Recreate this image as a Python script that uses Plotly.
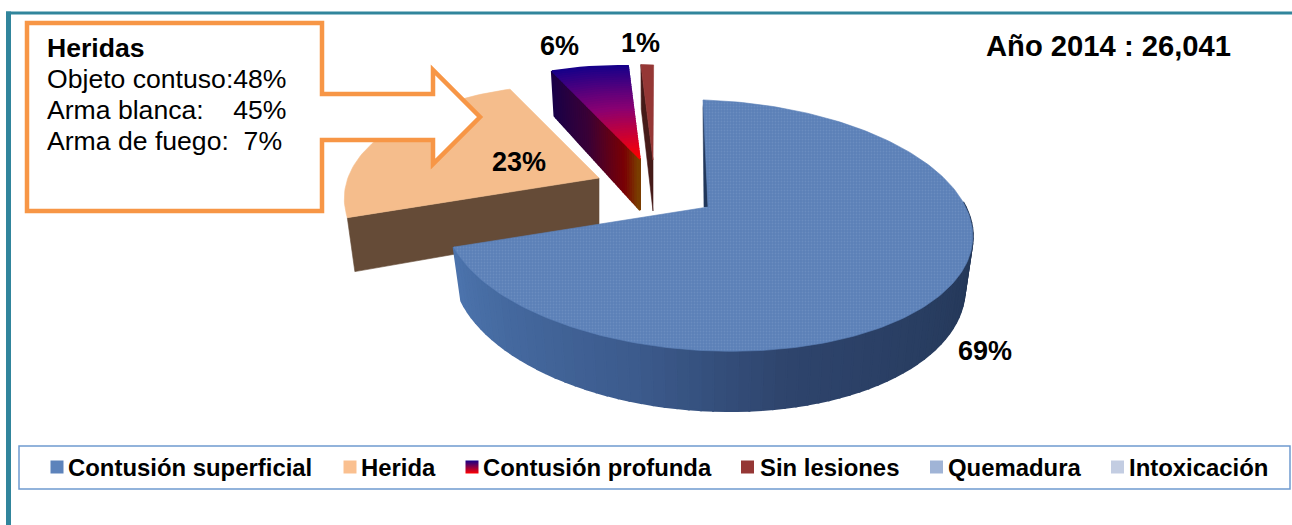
import math
import plotly.graph_objects as go

# ---- data ----
categories = ["Contusión superficial", "Herida", "Contusión profunda", "Sin lesiones", "Quemadura", "Intoxicación"]
values = [69.0, 24.1, 6.3, 1.0, 0.0, 0.0]
pct_labels = ["69%", "23%", "6%", "1%"]
legend_colors = ["#5d83bb", "#FAC090", "#14008a", "#953735", "#A0B4D6", "#C3CDE2"]
wound_title = "Heridas"
wound_lines = ["Objeto contuso:48%", "Arma blanca:    45%", "Arma de fuego:  7%"]
headline = "Año 2014 : 26,041"

# ---- layout constants (pixels in a 1292x525 canvas) ----
APEX = (708.0, 207.0)
B, A = 261.0, 122.8   # perspective disc
K_SLICE = [0.1474, 0.25, 0.1474, 0.1474]
SHEAR, ROLL = -0.047, 0.03
DEPTH = 51.0
EXPLODE = [(0, 0), (-109, -29), (-68, -48), (-55, -47)]
SCALE = [1.0, 0.95, 0.87, 0.89]
LEGEND_X = [57, 350, 472, 747.5, 936.5, 1117.5]
LEGEND_TX = [67, 360, 482, 759, 947, 1128]
FONT = "Liberation Sans, Arial, sans-serif"


def hex2rgb(h):
    return tuple(int(h[i:i + 2], 16) for i in (1, 3, 5))


def ramp(stops, f):
    f = max(0.0, min(1.0, f))
    for (a, ca), (b, cb) in zip(stops, stops[1:]):
        if f <= b:
            t = (f - a) / (b - a) if b > a else 0
            ra, rb = hex2rgb(ca), hex2rgb(cb)
            return "rgb(%d,%d,%d)" % tuple(round(x + (y - x) * t) for x, y in zip(ra, rb))
    return stops[-1][1]


def proj(i, theta, r=1.0):
    """relative image offset for a rim point at clockwise angle theta, radius r"""
    u, v = r * math.sin(math.radians(theta)), r * math.cos(math.radians(theta))
    d = 1 + K_SLICE[i] * v
    X, Y = B * u / d, A * v / d
    return X + SHEAR * Y, -Y + ROLL * X, v


def top_pt(i, theta, r=1.0):
    x, y, _ = proj(i, theta, r)
    s = SCALE[i]
    return APEX[0] + EXPLODE[i][0] + s * x, APEX[1] + EXPLODE[i][1] + s * y


def low_pt(i, theta, r=1.0):
    x, y, v = proj(i, theta, r)
    s = SCALE[i]
    return (APEX[0] + EXPLODE[i][0] + s * x * 0.97,
            APEX[1] + EXPLODE[i][1] + s * y + DEPTH / (1 + 0.1474 * v))


fig = go.Figure()


def poly(pts, color, pattern=None, lw=0.6):
    xs = [p[0] for p in pts] + [pts[0][0]]
    ys = [p[1] for p in pts] + [pts[0][1]]
    kw = {}
    if pattern:
        kw["fillpattern"] = pattern
    fig.add_trace(go.Scatter(x=xs, y=ys, mode="lines", fill="toself", fillcolor=color,
                             line=dict(color=color, width=lw), hoverinfo="skip",
                             showlegend=False, **kw))


angles = [0.0]
for val in values:
    angles.append(angles[-1] + 3.6 * val)


def arc(i, t0, t1, n=60):
    return [top_pt(i, t0 + (t1 - t0) * k / n) for k in range(n + 1)]


# ---- peach slice (index 1) ----
t0, t1 = angles[1], angles[2]
poly([top_pt(1, t0), top_pt(1, t0, 0), low_pt(1, t0, 0), low_pt(1, t0)], "#654B37")
poly([top_pt(1, t0, 0)] + arc(1, t0, t1), "#F5BD8C")

# ---- purple slice (index 2) ----
t0, t1 = angles[2], angles[3]
side_stops = [(0, "#180048"), (0.45, "#3a0036"), (0.85, "#7a0004"), (1, "#7a4200")]
top_stops = [(0, "#14008a"), (0.5, "#8a0072"), (1, "#ff0000")]
N = 40
for k in range(N):
    a, b = 1 - k / N, 1 - (k + 1) / N
    poly([top_pt(2, t0, a), top_pt(2, t0, b), low_pt(2, t0, b), low_pt(2, t0, a)],
         ramp(side_stops, (k + 0.5) / N), lw=2)
for k in range(N):
    a, b = 1 - k / N, 1 - (k + 1) / N
    pts = [top_pt(2, t0 + (t1 - t0) * j / 8, a) for j in range(9)]
    pts += [top_pt(2, t1 - (t1 - t0) * j / 8, b) for j in range(9)]
    poly(pts, ramp(top_stops, (k + 0.5) / N), lw=1.5)

# ---- dark-red slice (index 3) ----
t0, t1 = angles[3], angles[4]
poly([top_pt(3, t0), top_pt(3, t0, 0), low_pt(3, t0, 0), low_pt(3, t0)], "#451a18")
poly([top_pt(3, t0, 0)] + arc(3, t0, t1, 6), "#953735")

# ---- blue slice (index 0) ----
t0, t1 = angles[0], angles[1]
blue_side = [(0, "#1f3250"), (0.2, "#263a5c"), (0.5, "#2e446c"), (0.68, "#3c5b8d"), (1, "#4c74ad")]
start_vis = 84.0
M = 70
for k in range(M):
    a = start_vis + (t1 - start_vis) * k / M
    b = start_vis + (t1 - start_vis) * (k + 1) / M
    poly([top_pt(0, a), top_pt(0, b), low_pt(0, b), low_pt(0, a)], ramp(blue_side, (k + 0.5) / M), lw=2)
# inner wall sliver behind the start edge
tx, ty = top_pt(0, 0)
poly([(tx, ty + 8), (APEX[0] - 4, APEX[1]), APEX, (tx + 1, ty)], "#22375a")
texture = dict(shape=".", size=3, solidity=0.3, fgcolor="#7f9fce", bgcolor="#5b80b7", fgopacity=0.4)
poly([APEX] + arc(0, t0, t1, 200), "#5b80b7", texture)

# ---- legend swatches ----
for i, c in enumerate(categories):
    marker = dict(symbol="square", size=13, color=legend_colors[i], line=dict(width=0))
    if i == 2:
        marker["gradient"] = dict(type="vertical", color="#ff0000")
    fig.add_trace(go.Scatter(x=[LEGEND_X[i]], y=[467], mode="markers", marker=marker,
                             hoverinfo="skip", showlegend=False))


def label(x, y, text, size, bold=True, anchor="left"):
    fig.add_annotation(x=x, y=y, xref="x", yref="y", text=("<b>%s</b>" % text) if bold else text,
                       showarrow=False, xanchor=anchor, yanchor="middle", borderpad=0,
                       font=dict(family=FONT, size=size, color="#000000"))


for i, c in enumerate(categories):
    label(LEGEND_TX[i], 467, c, 23.9)

# ---- callout with arrow ----
callout = "M 27 23 L 322 23 L 322 94 L 433 94 L 433 70 L 480 117 L 433 164 L 433 140 L 322 140 L 322 211 L 27 211 Z"
shapes = [
    dict(type="path", path=callout, fillcolor="#ffffff", line=dict(color="#F79646", width=4.5), layer="above"),
    dict(type="rect", x0=19, x1=1290, y0=446, y1=489, line=dict(color="#6f9bd0", width=1.5), layer="below"),
    dict(type="rect", x0=6, x1=11, y0=11.5, y1=525, fillcolor="#31859C", line=dict(width=0), layer="above"),
    dict(type="rect", x0=6, x1=1292, y0=11.5, y1=14.5, fillcolor="#31859C", line=dict(width=0), layer="above"),
]

label(46, 48, wound_title, 26.6)
for yy, line in zip([79, 110, 141], wound_lines):
    label(46, yy, line.replace("  ", "&nbsp;&nbsp;"), 26.6, bold=False)
label(985, 46, headline, 29.2)
for (x, y), t in zip([(985, 351), (519, 162), (559, 46), (640, 43)], pct_labels):
    label(x, y, t, 27, anchor="center")

fig.update_layout(
    width=1292, height=525, margin=dict(l=0, r=0, t=0, b=0),
    paper_bgcolor="#ffffff", plot_bgcolor="#ffffff", showlegend=False, shapes=shapes,
    xaxis=dict(range=[0, 1292], visible=False, fixedrange=True),
    yaxis=dict(range=[525, 0], visible=False, fixedrange=True),
)
fig.write_html("out.html", config=dict(displayModeBar=False),
               post_script="document.body.style.margin='0';document.body.style.overflow='hidden';")
